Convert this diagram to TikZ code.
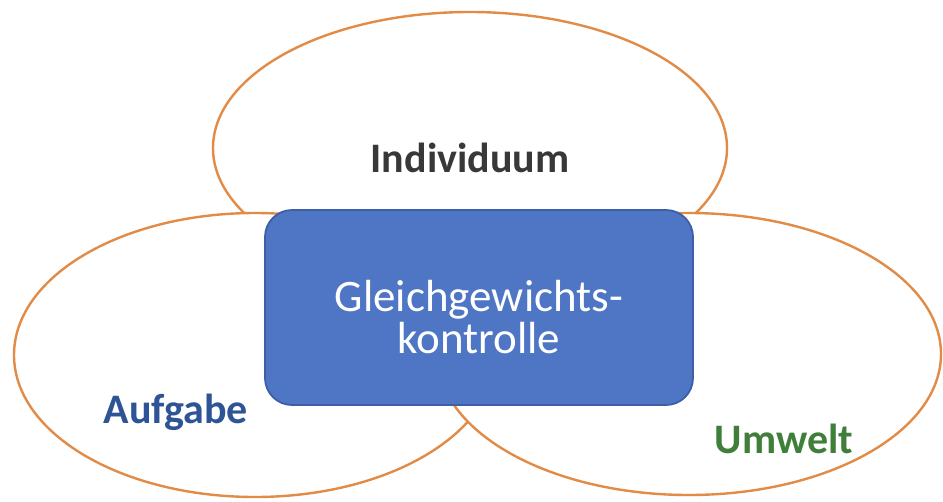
\documentclass[tikz,border=0pt]{standalone}
\usepackage{fontspec}
\setmainfont{Carlito}
\usetikzlibrary{shapes.geometric}
\definecolor{ringorange}{HTML}{E28B47}
\definecolor{boxblue}{HTML}{4E76C4}
\definecolor{boxedge}{HTML}{3C5FA6}
\definecolor{txtgray}{HTML}{383838}
\definecolor{txtblue}{HTML}{2F5496}
\definecolor{txtgreen}{HTML}{3F7F3A}
\tikzset{
  ring/.style={ellipse, draw=ringorange, fill=white, line width=2.4pt, inner sep=0pt},
  centerbox/.style={draw=boxedge, fill=boxblue, line width=1.8pt, rounded corners=27pt},
  lbl/.style={font=\bfseries\fontsize{42}{45}\selectfont, anchor=base, inner sep=0pt}
}
\begin{document}
\begin{tikzpicture}[x=1pt,y=-1pt]
\useasboundingbox (0,0) rectangle (943,501);
\node[ring, minimum width=514pt, minimum height=272pt] (top) at (470,148) {};
\node[ring, minimum width=482pt, minimum height=284pt] (left) at (255,355) {};
\node[ring, minimum width=504pt, minimum height=282pt] (right) at (689,354) {};
\draw[centerbox] (265,210) rectangle (693,405);
\node[font=\fontsize{45}{42}\selectfont, text=white, align=center, inner sep=0pt] (ctr) at (479,317) {Gleichgewichts-\\kontrolle};
\node[lbl, text=txtgray] (ind) at (470,172) {Individuum};
\node[lbl, text=txtblue] (auf) at (176,423) {Aufgabe};
\node[lbl, text=txtgreen] (umw) at (784,453) {Umwelt};
\end{tikzpicture}
\end{document}
